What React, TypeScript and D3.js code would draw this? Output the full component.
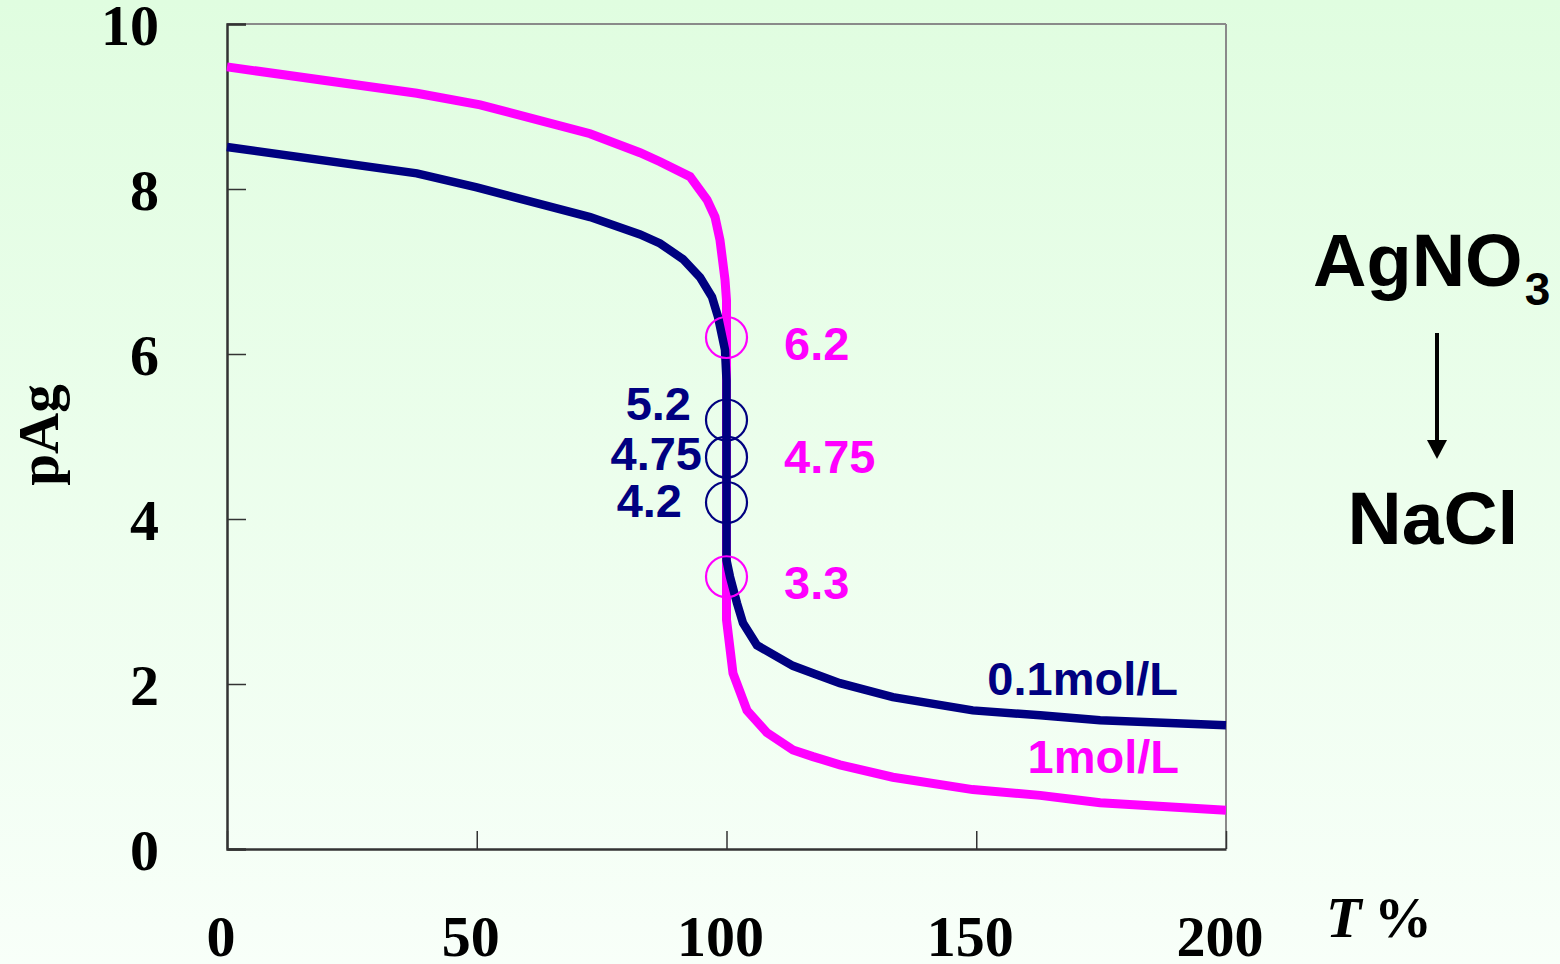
import React, { useEffect } from 'react';
import * as d3 from 'd3';

// titration volume T% and pAg
const tValues1 = [0, 38, 50.7, 72.7, 82.7, 86.7, 92.7, 96.1, 97.7, 98.7, 99.7, 100, 100, 101.3, 104.1, 108.1, 113.3, 117.3, 122.7, 133.3, 149.3, 162.8, 174.8, 200];
const pAg1 = [9.48, 9.16, 9.02, 8.67, 8.44, 8.33, 8.15, 7.87, 7.66, 7.38, 6.9, 6.65, 2.78, 2.13, 1.68, 1.41, 1.2, 1.12, 1.02, 0.87, 0.72, 0.65, 0.56, 0.47];

const tValues01 = [0, 38, 50, 72.7, 82.7, 86.7, 91.3, 94.7, 97.1, 98.3, 99.7, 100, 100, 100.7, 102.1, 103.3, 106.1, 113.3, 117.3, 122.7, 133.3, 149.3, 162.8, 174.8, 200];
const pAg01 = [8.51, 8.19, 8.02, 7.66, 7.45, 7.34, 7.15, 6.93, 6.69, 6.45, 6.05, 5.68, 3.5, 3.3, 2.98, 2.74, 2.47, 2.22, 2.13, 2.01, 1.84, 1.68, 1.62, 1.56, 1.5];

// marked points on the jump
const jump1 = [6.2, 3.3];
const jump1Labels = ['6.2', '3.3'];
const jump01 = [5.2, 4.75, 4.2];
const jump01Labels = ['5.2', '4.75', '4.2'];

const xTicks = [0, 50, 100, 150, 200];
const yTicks = [0, 2, 4, 6, 8, 10];

const width = 1560;
const height = 964;
const margin = { left: 227, right: 334, top: 24, bottom: 115 };

const MAGENTA = '#ff00ff';
const NAVY = '#000080';
const SERIF = '"Liberation Serif", "Times New Roman", serif';
const SANS = '"Liberation Sans", Arial, sans-serif';

export default function App() {
  useEffect(() => {
    document.body.style.margin = '0';
    draw();
  }, []);

  function draw() {
    d3.select('#titration-chart').select('svg').remove();

    const x = d3.scaleLinear()
      .domain([0, 200])
      .range([margin.left, width - margin.right]);

    const y = d3.scaleLinear()
      .domain([0, 10])
      .range([height - margin.bottom, margin.top]);

    const svg = d3.select('#titration-chart')
      .append('svg')
      .attr('width', width)
      .attr('height', height)
      .style('display', 'block');

    const grad = svg.append('defs')
      .append('linearGradient')
      .attr('id', 'bg')
      .attr('x1', 0).attr('y1', 0)
      .attr('x2', 0).attr('y2', 1);
    grad.append('stop').attr('offset', '0%').attr('stop-color', '#e0fde0');
    grad.append('stop').attr('offset', '100%').attr('stop-color', '#f8fff9');

    svg.append('rect')
      .attr('width', width)
      .attr('height', height)
      .attr('fill', 'url(#bg)');

    const x0 = x(0);
    const x1 = x(200);
    const yTop = y(10);
    const yBot = y(0);

    // frame
    svg.append('line').attr('x1', x0).attr('x2', x1).attr('y1', yTop).attr('y2', yTop)
      .attr('stroke', '#8a8a8a').attr('stroke-width', 2);
    svg.append('line').attr('x1', x1).attr('x2', x1).attr('y1', yTop).attr('y2', yBot)
      .attr('stroke', '#8a8a8a').attr('stroke-width', 2);

    // y axis
    const yAxis = (g: any) => g
      .attr('transform', `translate(${x0}, 0)`)
      .call(d3.axisRight(y).tickValues(yTicks).tickSize(19).tickFormat(() => ''))
      .call(() => g.select('.domain').attr('stroke', '#333').attr('stroke-width', 2.5));

    svg.append('g')
      .call(yAxis)
      .selectAll('.tick line')
      .attr('stroke', '#333')
      .attr('stroke-width', 1.5);

    // x axis
    const xAxis = (g: any) => g
      .attr('transform', `translate(0, ${yBot})`)
      .call(d3.axisTop(x).tickValues(xTicks).tickSize(18).tickSizeOuter(0).tickFormat(() => ''))
      .call(() => g.select('.domain').attr('stroke', '#333').attr('stroke-width', 2.5));

    svg.append('g')
      .call(xAxis)
      .selectAll('.tick line')
      .attr('stroke', '#333')
      .attr('stroke-width', 1.5);

    svg.selectAll('.ylab')
      .data(yTicks)
      .enter()
      .append('text')
      .attr('x', x0 - 68)
      .attr('y', (d) => y(d))
      .attr('dy', '0.36em')
      .attr('text-anchor', 'end')
      .style('font-family', SERIF)
      .style('font-weight', 'bold')
      .style('font-size', '58px')
      .text((d) => d);

    svg.selectAll('.xlab')
      .data(xTicks)
      .enter()
      .append('text')
      .attr('x', (d) => x(d) - 6)
      .attr('y', 956)
      .attr('text-anchor', 'middle')
      .style('font-family', SERIF)
      .style('font-weight', 'bold')
      .style('font-size', '58px')
      .text((d) => d);

    svg.append('text')
      .attr('transform', 'translate(58, 435) rotate(-90)')
      .attr('text-anchor', 'middle')
      .style('font-family', SERIF)
      .style('font-weight', 'bold')
      .style('font-size', '57px')
      .text('pAg');

    const tLabel = svg.append('text')
      .attr('x', 1326)
      .attr('y', 937)
      .style('font-family', SERIF)
      .style('font-weight', 'bold')
      .style('font-size', '58px');
    tLabel.append('tspan').style('font-style', 'italic').text('T');
    tLabel.append('tspan').attr('x', 1374).text('%');

    // curves
    const line = d3.line<[number, number]>()
      .x((d) => x(d[0]))
      .y((d) => y(d[1]));

    svg.append('path')
      .datum(tValues1.map((t, i) => [t, pAg1[i]] as [number, number]))
      .attr('d', line)
      .attr('fill', 'none')
      .attr('stroke', MAGENTA)
      .attr('stroke-width', 9);

    svg.append('path')
      .datum(tValues01.map((t, i) => [t, pAg01[i]] as [number, number]))
      .attr('d', line)
      .attr('fill', 'none')
      .attr('stroke', NAVY)
      .attr('stroke-width', 8.5);

    // circles on the jump
    svg.selectAll('.c1')
      .data(jump1)
      .enter()
      .append('circle')
      .attr('cx', x(100))
      .attr('cy', (d) => y(d))
      .attr('r', 20.5)
      .attr('fill', 'none')
      .attr('stroke', MAGENTA)
      .attr('stroke-width', 2.2);

    svg.selectAll('.c01')
      .data(jump01)
      .enter()
      .append('circle')
      .attr('cx', x(100))
      .attr('cy', (d) => y(d))
      .attr('r', 20.5)
      .attr('fill', 'none')
      .attr('stroke', NAVY)
      .attr('stroke-width', 2.2);

    const annot = (txt: string, px: number, py: number, color: string, anchor: string) => {
      svg.append('text')
        .attr('x', px)
        .attr('y', py)
        .attr('text-anchor', anchor)
        .attr('fill', color)
        .style('font-family', SANS)
        .style('font-weight', 'bold')
        .style('font-size', '47px')
        .text(txt);
    };

    jump1.forEach((v, i) => annot(jump1Labels[i], 784, y(v) + 22, MAGENTA, 'start'));
    annot('4.75', 784, y(4.75) + 16, MAGENTA, 'start');
    const navyEnds = [691, 702, 682];
    const navyBase = [420, 470, 517];
    jump01.forEach((v, i) => annot(jump01Labels[i], navyEnds[i], navyBase[i], NAVY, 'end'));

    annot('0.1mol/L', 1178, 695, NAVY, 'end');
    annot('1mol/L', 1179, 773, MAGENTA, 'end');

    // reagent direction
    const reagent = svg.append('text')
      .attr('x', 1313)
      .attr('y', 286)
      .style('font-family', SANS)
      .style('font-weight', 'bold')
      .style('font-size', '74px');
    reagent.append('tspan').text('AgNO');
    reagent.append('tspan').attr('dy', 19).attr('dx', 2).style('font-size', '46px').text('3');

    svg.append('line')
      .attr('x1', 1437).attr('x2', 1437)
      .attr('y1', 333).attr('y2', 442)
      .attr('stroke', '#000')
      .attr('stroke-width', 4);
    svg.append('path')
      .attr('d', 'M1427,440 L1447,440 L1437,459 Z')
      .attr('fill', '#000');

    svg.append('text')
      .attr('x', 1433)
      .attr('y', 544)
      .attr('text-anchor', 'middle')
      .style('font-family', SANS)
      .style('font-weight', 'bold')
      .style('font-size', '75px')
      .text('NaCl');
  }

  return (
    <div id="titration-chart" />
  );
}
